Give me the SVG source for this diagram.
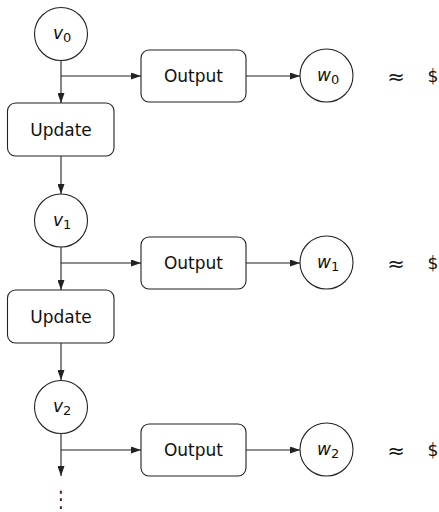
<svg xmlns="http://www.w3.org/2000/svg" width="439" height="512" viewBox="0 0 439 512">
  <defs>
    <marker id="arrow" viewBox="0 0 10 7" refX="10" refY="3.5" markerWidth="10" markerHeight="7" markerUnits="userSpaceOnUse" orient="auto">
      <path d="M0,0 L10,3.5 L0,7 z" fill="#222"/>
    </marker>
    <style>
      .node { fill: #fff; stroke: #222; stroke-width: 1.1; }
      .edge { fill: none; stroke: #222; stroke-width: 1.1; marker-end: url(#arrow); }
      .lbl { font-family: "DejaVu Sans", "Liberation Sans", sans-serif; font-size: 17px; fill: #111; text-anchor: middle; dominant-baseline: central; }
      .var { font-family: "DejaVu Sans", "Liberation Sans", sans-serif; font-size: 17px; fill: #111; font-style: italic; }
      .sub { font-size: 13px; font-style: normal; }
      .rel { font-size: 21px; }
    </style>
  </defs>

  <g id="connectors">
    <!-- stage 0 -->
    <line class="edge" x1="61" y1="61" x2="61" y2="103"/>
    <line class="edge" x1="61" y1="76" x2="141" y2="76"/>
    <line class="edge" x1="246" y1="76" x2="300" y2="76"/>
    <line class="edge" x1="61" y1="156" x2="61" y2="194"/>
    <!-- stage 1 -->
    <line class="edge" x1="61" y1="247" x2="61" y2="290"/>
    <line class="edge" x1="61" y1="263" x2="141" y2="263"/>
    <line class="edge" x1="246" y1="263" x2="300" y2="263"/>
    <line class="edge" x1="61" y1="343" x2="61" y2="380"/>
    <!-- stage 2 -->
    <line class="edge" x1="61" y1="434" x2="61" y2="476"/>
    <line class="edge" x1="61" y1="450" x2="141" y2="450"/>
    <line class="edge" x1="246" y1="450" x2="300" y2="450"/>
  </g>

  <!-- state nodes -->
  <g id="v0">
    <circle class="node" cx="61" cy="34" r="26.5"/>
    <text class="var" x="53" y="39">v<tspan class="sub" dy="3">0</tspan></text>
  </g>
  <g id="v1">
    <circle class="node" cx="61" cy="220.5" r="26.5"/>
    <text class="var" x="53" y="225.5">v<tspan class="sub" dy="3">1</tspan></text>
  </g>
  <g id="v2">
    <circle class="node" cx="61" cy="407" r="26.5"/>
    <text class="var" x="53" y="412">v<tspan class="sub" dy="3">2</tspan></text>
  </g>

  <!-- update blocks -->
  <g id="update0">
    <rect class="node" x="7.5" y="103" width="106.5" height="53" rx="8"/>
    <text class="lbl" x="61" y="129.5">Update</text>
  </g>
  <g id="update1">
    <rect class="node" x="7.5" y="290" width="106.5" height="53" rx="8"/>
    <text class="lbl" x="61" y="316.5">Update</text>
  </g>

  <!-- output blocks -->
  <g id="output0">
    <rect class="node" x="141" y="50" width="105" height="52" rx="8"/>
    <text class="lbl" x="193.5" y="76">Output</text>
  </g>
  <g id="output1">
    <rect class="node" x="141" y="237" width="105" height="52" rx="8"/>
    <text class="lbl" x="193.5" y="263">Output</text>
  </g>
  <g id="output2">
    <rect class="node" x="141" y="424" width="105" height="52" rx="8"/>
    <text class="lbl" x="193.5" y="450">Output</text>
  </g>

  <!-- output values -->
  <g id="w0">
    <circle class="node" cx="326.5" cy="75.5" r="26.5"/>
    <text class="var" x="317" y="80.5">w<tspan class="sub" dy="3">0</tspan></text>
  </g>
  <g id="w1">
    <circle class="node" cx="326.5" cy="262.5" r="26.5"/>
    <text class="var" x="317" y="267.5">w<tspan class="sub" dy="3">1</tspan></text>
  </g>
  <g id="w2">
    <circle class="node" cx="326.5" cy="449.5" r="26.5"/>
    <text class="var" x="317" y="454.5">w<tspan class="sub" dy="3">2</tspan></text>
  </g>

  <!-- approximation marks -->
  <g id="approx">
    <text class="lbl rel" x="396" y="77">≈</text>
    <text class="lbl" x="433" y="76">$</text>
    <text class="lbl rel" x="396" y="264">≈</text>
    <text class="lbl" x="433" y="263">$</text>
    <text class="lbl rel" x="396" y="451">≈</text>
    <text class="lbl" x="433" y="450">$</text>
  </g>

  <!-- continuation -->
  <text class="lbl" transform="translate(61,499) scale(1,1.35)" x="0" y="0" style="font-size:17px">⋮</text>
</svg>
